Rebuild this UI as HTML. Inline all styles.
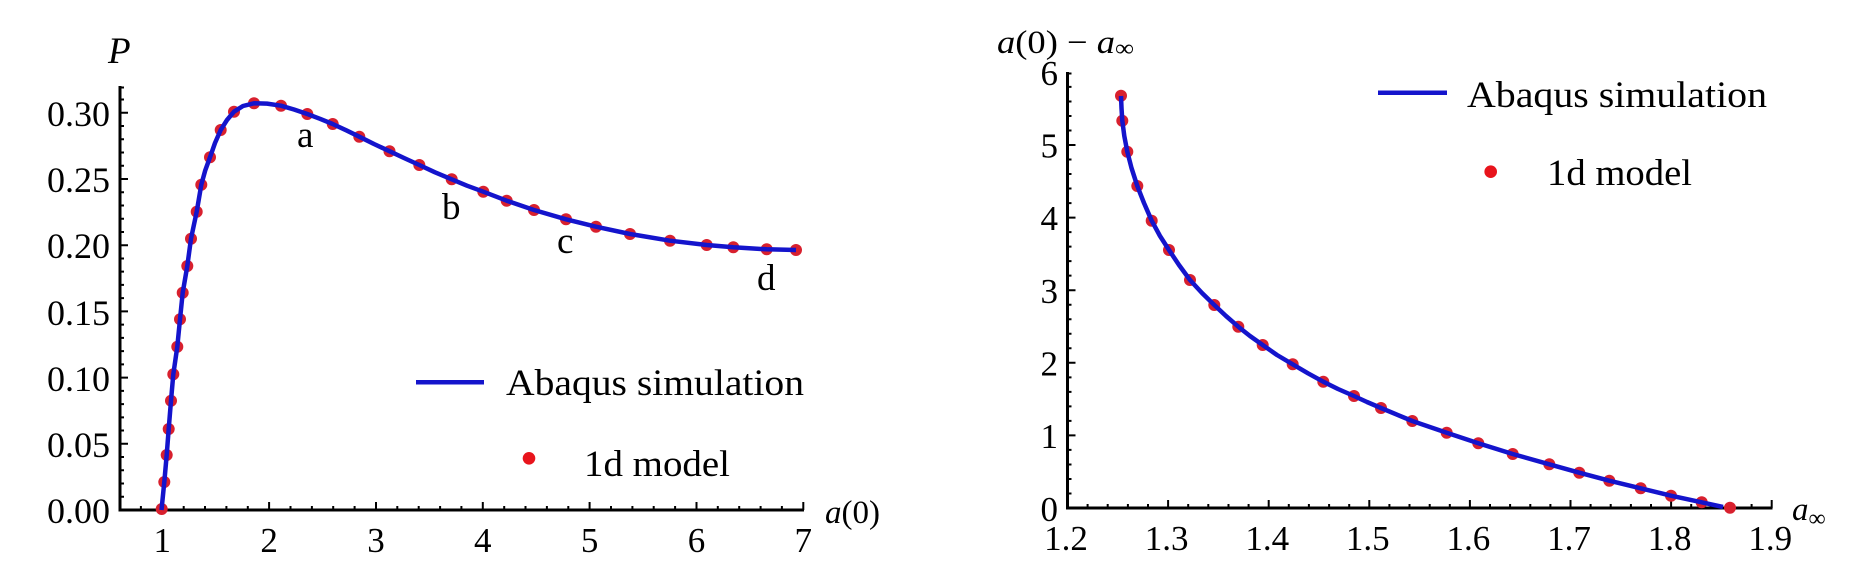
<!DOCTYPE html>
<html>
<head>
<meta charset="utf-8">
<style>
  html, body { margin:0; padding:0; background:#fff; }
  svg { display:block; }
  text { font-family: "Liberation Serif", "DejaVu Serif", serif; fill:#000; }
</style>
</head>
<body>
<svg width="1876" height="582" viewBox="0 0 1876 582" xmlns="http://www.w3.org/2000/svg">
  <rect x="0" y="0" width="1876" height="582" fill="#fff"/>

  <!-- ================= LEFT CHART ================= -->
  <path d="M120,86 L120,511.5 M118.5,510 L804,510" stroke="#000" stroke-width="3" fill="none"/>
  <path stroke="#000" stroke-width="2" fill="none" d="
    M140.9,510 v-4 M162.3,510 v-8 M183.7,510 v-4 M205.0,510 v-4 M226.4,510 v-4 M247.8,510 v-4
    M269.1,510 v-8 M290.5,510 v-4 M311.9,510 v-4 M333.2,510 v-4 M354.6,510 v-4
    M376.0,510 v-8 M397.3,510 v-4 M418.7,510 v-4 M440.1,510 v-4 M461.4,510 v-4
    M482.8,510 v-8 M504.2,510 v-4 M525.5,510 v-4 M546.9,510 v-4 M568.3,510 v-4
    M589.6,510 v-8 M611.0,510 v-4 M632.4,510 v-4 M653.7,510 v-4 M675.1,510 v-4
    M696.5,510 v-8 M717.8,510 v-4 M739.2,510 v-4 M760.6,510 v-4 M781.9,510 v-4
    M803.3,510 v-8"/>
  <path stroke="#000" stroke-width="2" fill="none" d="
    M120,496.76 h4 M120,483.52 h4 M120,470.28 h4 M120,457.04 h4
    M120,443.8 h8 M120,430.56 h4 M120,417.32 h4 M120,404.08 h4 M120,390.84 h4
    M120,377.6 h8 M120,364.36 h4 M120,351.12 h4 M120,337.88 h4 M120,324.64 h4
    M120,311.4 h8 M120,298.16 h4 M120,284.92 h4 M120,271.68 h4 M120,258.44 h4
    M120,245.2 h8 M120,231.96 h4 M120,218.72 h4 M120,205.48 h4 M120,192.24 h4
    M120,179.0 h8 M120,165.76 h4 M120,152.52 h4 M120,139.28 h4 M120,126.04 h4
    M120,112.8 h8 M120,99.56 h4 M120,87.5 h4"/>
  <g font-size="36" text-anchor="end">
    <text x="110" y="523">0.00</text>
    <text x="110" y="457">0.05</text>
    <text x="110" y="391">0.10</text>
    <text x="110" y="325">0.15</text>
    <text x="110" y="258">0.20</text>
    <text x="110" y="192">0.25</text>
    <text x="110" y="126">0.30</text>
  </g>
  <g font-size="35" text-anchor="middle">
    <text x="162.3" y="552">1</text>
    <text x="269.1" y="552">2</text>
    <text x="376.0" y="552">3</text>
    <text x="482.8" y="552">4</text>
    <text x="589.6" y="552">5</text>
    <text x="696.5" y="552">6</text>
    <text x="803.3" y="552">7</text>
  </g>
  <text x="108" y="63" font-size="37" font-style="italic">P</text>
  <text x="825" y="523" font-size="33"><tspan font-style="italic">a</tspan>(0)</text>

  <g fill="#d8202e">
    <circle cx="161.7" cy="509" r="6"/>
    <circle cx="164.3" cy="482" r="6"/>
    <circle cx="166.7" cy="455" r="6"/>
    <circle cx="168.7" cy="429" r="6"/>
    <circle cx="171" cy="400.7" r="6"/>
    <circle cx="173.3" cy="374.3" r="6"/>
    <circle cx="177.3" cy="346.7" r="6"/>
    <circle cx="180" cy="319.3" r="6"/>
    <circle cx="182.7" cy="292.8" r="6"/>
    <circle cx="187.3" cy="266" r="6"/>
    <circle cx="191" cy="238.7" r="6"/>
    <circle cx="196.7" cy="211.7" r="6"/>
    <circle cx="201.3" cy="184.7" r="6"/>
    <circle cx="210" cy="157.3" r="6"/>
    <circle cx="220.7" cy="130" r="6"/>
    <circle cx="234" cy="111.7" r="6"/>
    <circle cx="254" cy="103.3" r="6"/>
    <circle cx="281" cy="105.7" r="6"/>
    <circle cx="307.3" cy="114" r="6"/>
    <circle cx="332.7" cy="124" r="6"/>
    <circle cx="359.3" cy="136.7" r="6"/>
    <circle cx="389.5" cy="151.2" r="6"/>
    <circle cx="419.3" cy="165" r="6"/>
    <circle cx="451.7" cy="179.3" r="6"/>
    <circle cx="483.3" cy="191.7" r="6"/>
    <circle cx="506.7" cy="200.7" r="6"/>
    <circle cx="534" cy="210" r="6"/>
    <circle cx="566" cy="219.3" r="6"/>
    <circle cx="596" cy="226.7" r="6"/>
    <circle cx="630" cy="234" r="6"/>
    <circle cx="670" cy="240.7" r="6"/>
    <circle cx="706.7" cy="245" r="6"/>
    <circle cx="733.3" cy="247.3" r="6"/>
    <circle cx="766.7" cy="249.3" r="6"/>
    <circle cx="796" cy="250" r="6"/>
  </g>
  <polyline fill="none" stroke="#1414cc" stroke-width="4.5" stroke-linejoin="round" stroke-linecap="butt"
    points="161.5,510 164.3,482 166.7,455 168.7,429 171,400.7 173.3,374.3 177.3,346.7 180,319.3 182.7,292.8 187.3,266 191,238.7 196.7,211.7 201.3,184.7 205.2,170.5 210,157.3 215,143 220.7,130 227,120 234,111.7 243,106 254,103.3 267,103.6 281,105.7 294,109.5 307.3,114 320,118.8 332.7,124 346,130.2 359.3,136.7 374,144 389.5,151.2 404,158 419.3,165 435,172.3 451.7,179.3 467,185.7 483.3,191.7 506.7,200.7 534,210 566,219.3 596,226.7 630,234 670,240.7 706.7,245 733.3,247.3 766.7,249.3 796,250"/>

  <g font-size="37">
    <text x="297" y="147">a</text>
    <text x="442" y="219">b</text>
    <text x="557" y="253">c</text>
    <text x="757" y="290">d</text>
  </g>

  <line x1="416" y1="382.3" x2="484" y2="382.3" stroke="#1414cc" stroke-width="4.5"/>
  <text x="506" y="395" font-size="37" textLength="298" lengthAdjust="spacingAndGlyphs">Abaqus simulation</text>
  <circle cx="529" cy="458.3" r="6.3" fill="#e8141c"/>
  <text x="584" y="476" font-size="37" textLength="146" lengthAdjust="spacingAndGlyphs">1d model</text>

  <!-- ================= RIGHT CHART ================= -->
  <path d="M1067.5,72 L1067.5,509.5 M1066,508 L1772.5,508" stroke="#000" stroke-width="3" fill="none"/>
  <path stroke="#000" stroke-width="2" fill="none" d="
    M1087.6,508 v-4 M1107.7,508 v-4 M1127.9,508 v-4 M1148.0,508 v-4
    M1168.1,508 v-8 M1188.2,508 v-4 M1208.3,508 v-4 M1228.5,508 v-4 M1248.6,508 v-4
    M1268.7,508 v-8 M1288.8,508 v-4 M1308.9,508 v-4 M1329.1,508 v-4 M1349.2,508 v-4
    M1369.3,508 v-8 M1389.4,508 v-4 M1409.5,508 v-4 M1429.7,508 v-4 M1449.8,508 v-4
    M1469.9,508 v-8 M1490.0,508 v-4 M1510.1,508 v-4 M1530.3,508 v-4 M1550.4,508 v-4
    M1570.5,508 v-8 M1590.6,508 v-4 M1610.7,508 v-4 M1630.9,508 v-4 M1651.0,508 v-4
    M1671.1,508 v-8 M1691.2,508 v-4 M1711.3,508 v-4 M1731.5,508 v-4 M1751.6,508 v-4
    M1771.7,508 v-8"/>
  <path stroke="#000" stroke-width="2" fill="none" d="
    M1067.5,493.48 h4 M1067.5,478.96 h4 M1067.5,464.44 h4 M1067.5,449.92 h4
    M1067.5,435.4 h8 M1067.5,420.88 h4 M1067.5,406.36 h4 M1067.5,391.84 h4 M1067.5,377.32 h4
    M1067.5,362.8 h8 M1067.5,348.28 h4 M1067.5,333.76 h4 M1067.5,319.24 h4 M1067.5,304.72 h4
    M1067.5,290.2 h8 M1067.5,275.68 h4 M1067.5,261.16 h4 M1067.5,246.64 h4 M1067.5,232.12 h4
    M1067.5,217.6 h8 M1067.5,203.08 h4 M1067.5,188.56 h4 M1067.5,174.04 h4 M1067.5,159.52 h4
    M1067.5,145 h8 M1067.5,130.48 h4 M1067.5,115.96 h4 M1067.5,101.44 h4 M1067.5,86.92 h4
    M1067.5,73.5 h4"/>
  <g font-size="35" text-anchor="end">
    <text x="1058" y="521">0</text>
    <text x="1058" y="448">1</text>
    <text x="1058" y="375.5">2</text>
    <text x="1058" y="303">3</text>
    <text x="1058" y="230">4</text>
    <text x="1058" y="157.5">5</text>
    <text x="1058" y="85">6</text>
  </g>
  <g font-size="35" text-anchor="middle">
    <text x="1066" y="550">1.2</text>
    <text x="1166.6" y="550">1.3</text>
    <text x="1267.2" y="550">1.4</text>
    <text x="1367.8" y="550">1.5</text>
    <text x="1468.4" y="550">1.6</text>
    <text x="1569" y="550">1.7</text>
    <text x="1669.6" y="550">1.8</text>
    <text x="1770.2" y="550">1.9</text>
  </g>
  <text x="997" y="53" font-size="33" textLength="137" lengthAdjust="spacingAndGlyphs"><tspan font-style="italic">a</tspan>(0) − <tspan font-style="italic">a</tspan><tspan font-size="24" dy="3">∞</tspan></text>
  <text x="1792" y="520" font-size="33"><tspan font-style="italic">a</tspan><tspan font-size="24" dy="6">∞</tspan></text>

  <g fill="#d8202e">
    <circle cx="1121" cy="95.7" r="6"/>
    <circle cx="1122.3" cy="120.7" r="6"/>
    <circle cx="1127.3" cy="151.7" r="6"/>
    <circle cx="1137.3" cy="186" r="6"/>
    <circle cx="1151.7" cy="220.7" r="6"/>
    <circle cx="1169" cy="250" r="6"/>
    <circle cx="1190" cy="280" r="6"/>
    <circle cx="1214.3" cy="305" r="6"/>
    <circle cx="1238.3" cy="326.7" r="6"/>
    <circle cx="1262.7" cy="345" r="6"/>
    <circle cx="1292.7" cy="364.3" r="6"/>
    <circle cx="1323.3" cy="381.7" r="6"/>
    <circle cx="1354" cy="396" r="6"/>
    <circle cx="1381" cy="408" r="6"/>
    <circle cx="1412.3" cy="421" r="6"/>
    <circle cx="1446.7" cy="432.7" r="6"/>
    <circle cx="1478.3" cy="443.3" r="6"/>
    <circle cx="1512.7" cy="454" r="6"/>
    <circle cx="1549.3" cy="464.3" r="6"/>
    <circle cx="1579.3" cy="472.7" r="6"/>
    <circle cx="1609.3" cy="480.7" r="6"/>
    <circle cx="1640.7" cy="488.3" r="6"/>
    <circle cx="1671" cy="495.7" r="6"/>
    <circle cx="1701.7" cy="502.3" r="6"/>
    <circle cx="1730" cy="507.7" r="6"/>
  </g>
  <polyline fill="none" stroke="#1414cc" stroke-width="4.5" stroke-linejoin="round" stroke-linecap="butt"
    points="1121,96 1121.5,108 1122.3,120.7 1124.3,136 1127.3,151.7 1131.5,168 1137.3,186 1144,203 1151.7,220.7 1160,236 1169,250 1179,265 1190,280 1202,293 1214.3,305 1226,316 1238.3,326.7 1250,336 1262.7,345 1277,355 1292.7,364.3 1308,373.3 1323.3,381.7 1338,389 1354,396 1367,402 1381,408 1412.3,421 1446.7,432.7 1478.3,443.3 1512.7,454 1549.3,464.3 1579.3,472.7 1609.3,480.7 1640.7,488.3 1671,495.7 1701.7,502.3 1723,507"/>

  <line x1="1378" y1="92.7" x2="1447" y2="92.7" stroke="#1414cc" stroke-width="4.5"/>
  <text x="1467" y="107" font-size="37" textLength="300" lengthAdjust="spacingAndGlyphs">Abaqus simulation</text>
  <circle cx="1490.7" cy="171.7" r="6.3" fill="#e8141c"/>
  <text x="1547" y="185" font-size="37" textLength="145" lengthAdjust="spacingAndGlyphs">1d model</text>
</svg>
</body>
</html>
